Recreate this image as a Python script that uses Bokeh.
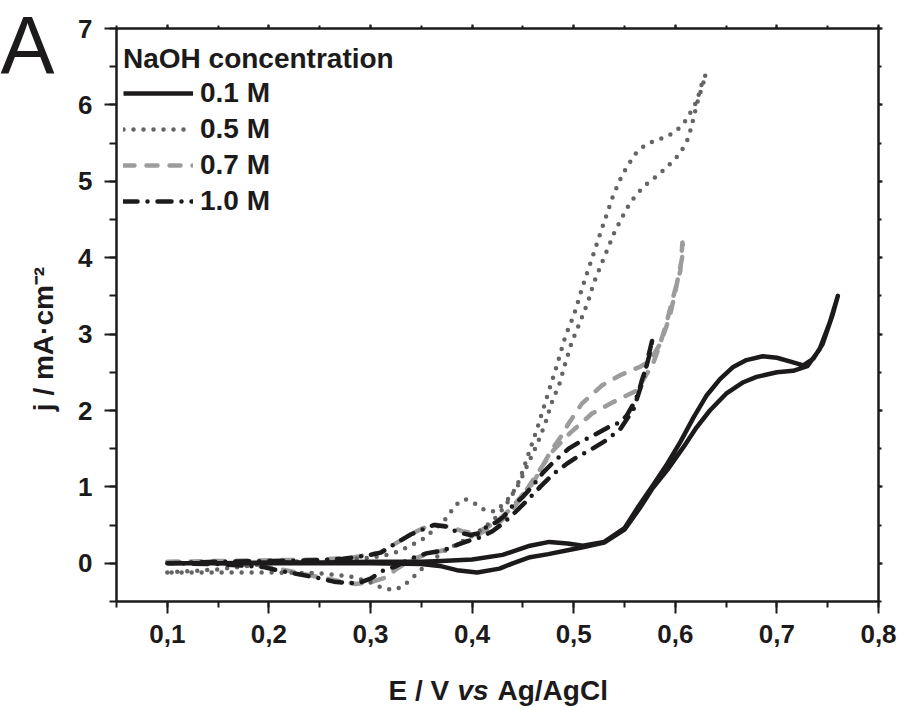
import math
from bokeh.plotting import figure
from bokeh.models import (Range1d, LinearAxis, FixedTicker, CustomJSTickFormatter,
                          Legend, LegendItem)
from bokeh.core.properties import value
from bokeh.embed import file_html
from bokeh.resources import INLINE

# ---- data (E / V vs Ag/AgCl, j / mA cm-2) ----
# 0.1 M NaOH : forward scan then reverse scan
e_01 = [0.10, 0.15, 0.20, 0.25, 0.30, 0.35, 0.37, 0.40, 0.43, 0.457, 0.476, 0.494, 0.509,
        0.53, 0.55, 0.564, 0.577, 0.592, 0.605, 0.618, 0.631, 0.644, 0.657, 0.670, 0.686,
        0.700, 0.716, 0.726, 0.736, 0.745, 0.755, 0.760,
        0.752, 0.742, 0.730, 0.716, 0.700, 0.680, 0.667, 0.650, 0.634, 0.621, 0.608, 0.592,
        0.577, 0.565, 0.55, 0.53, 0.509, 0.494, 0.475, 0.457, 0.44, 0.427, 0.405, 0.385,
        0.37, 0.35, 0.30, 0.25, 0.20, 0.15, 0.10]
j_01 = [0.00, 0.00, 0.01, 0.01, 0.02, 0.02, 0.03, 0.05, 0.11, 0.23, 0.28, 0.26, 0.23,
        0.28, 0.46, 0.75, 1.00, 1.30, 1.59, 1.91, 2.20, 2.41, 2.57, 2.66, 2.71,
        2.69, 2.63, 2.59, 2.68, 2.87, 3.26, 3.50,
        3.15, 2.80, 2.58, 2.52, 2.50, 2.44, 2.37, 2.22, 2.00, 1.78, 1.52, 1.22,
        0.97, 0.72, 0.44, 0.27, 0.21, 0.17, 0.12, 0.08, 0.00, -0.07, -0.12, -0.09,
        -0.04, -0.01, 0.00, 0.00, 0.00, 0.00, 0.00]

# 0.5 M NaOH
e_05 = [0.10, 0.15, 0.20, 0.25, 0.30, 0.32, 0.33, 0.34, 0.35, 0.36, 0.37, 0.377, 0.383,
        0.393, 0.403, 0.413, 0.423, 0.431, 0.439, 0.447, 0.456, 0.464, 0.473, 0.483, 0.492,
        0.500, 0.509, 0.519, 0.529, 0.539, 0.548, 0.554, 0.560, 0.569, 0.579, 0.589, 0.599,
        0.608, 0.614, 0.619, 0.623, 0.626, 0.630,
        0.626, 0.621, 0.618, 0.613, 0.608, 0.601, 0.592, 0.583, 0.573, 0.564, 0.556, 0.550,
        0.545, 0.540, 0.536, 0.528, 0.520, 0.514, 0.506, 0.498, 0.492, 0.486, 0.478, 0.472,
        0.464, 0.455, 0.446, 0.434, 0.425, 0.415, 0.405, 0.395, 0.385, 0.375, 0.365, 0.357,
        0.350, 0.342, 0.332, 0.323, 0.313, 0.30, 0.28, 0.25, 0.20, 0.15, 0.10]
j_05 = [-0.12, -0.08, 0.00, 0.04, 0.07, 0.12, 0.17, 0.24, 0.30, 0.41, 0.52, 0.63, 0.76,
        0.84, 0.78, 0.69, 0.68, 0.78, 0.89, 1.10, 1.45, 1.76, 2.15, 2.57, 2.98,
        3.24, 3.63, 4.03, 4.43, 4.82, 5.09, 5.22, 5.35, 5.46, 5.53, 5.57, 5.64,
        5.75, 5.88, 5.99, 6.13, 6.27, 6.40,
        6.22, 6.00, 5.83, 5.57, 5.44, 5.31, 5.19, 5.08, 4.98, 4.86, 4.73, 4.59,
        4.46, 4.33, 4.20, 3.94, 3.68, 3.42, 3.15, 2.89, 2.63, 2.35, 2.09, 1.83,
        1.56, 1.30, 1.04, 0.78, 0.62, 0.50, 0.40, 0.32, 0.25, 0.18, 0.08, 0.00,
        -0.08, -0.18, -0.30, -0.35, -0.33, -0.25, -0.17, -0.13, -0.12, -0.12, -0.12]

# 0.7 M NaOH
e_07 = [0.10, 0.15, 0.20, 0.25, 0.28, 0.31, 0.326, 0.34, 0.35, 0.362, 0.378, 0.39, 0.40,
        0.41, 0.424, 0.437, 0.450, 0.46, 0.467, 0.478, 0.487, 0.495, 0.508, 0.528, 0.547,
        0.565, 0.575, 0.585, 0.591, 0.595, 0.600, 0.603, 0.606, 0.608, 0.607,
        0.605, 0.596, 0.591, 0.585, 0.578, 0.562, 0.539, 0.518, 0.496, 0.480, 0.468, 0.458,
        0.448, 0.438, 0.428, 0.415, 0.40, 0.385, 0.372, 0.355, 0.339, 0.325, 0.316, 0.30,
        0.285, 0.265, 0.245, 0.22, 0.195, 0.15, 0.10]
j_07 = [0.02, 0.03, 0.04, 0.05, 0.07, 0.14, 0.27, 0.38, 0.45, 0.51, 0.48, 0.42, 0.40,
        0.44, 0.54, 0.70, 0.90, 1.05, 1.22, 1.48, 1.65, 1.83, 2.09, 2.33, 2.47,
        2.57, 2.65, 2.87, 3.09, 3.26, 3.55, 3.76, 3.95, 4.10, 4.20,
        3.83, 3.39, 3.13, 2.87, 2.61, 2.26, 2.11, 1.96, 1.70, 1.48, 1.25, 1.05,
        0.85, 0.68, 0.55, 0.45, 0.32, 0.24, 0.17, 0.12, 0.04, -0.08, -0.18, -0.25,
        -0.27, -0.22, -0.17, -0.10, -0.04, 0.00, 0.02]

# 1.0 M NaOH
e_10 = [0.10, 0.15, 0.20, 0.25, 0.273, 0.296, 0.31, 0.326, 0.34, 0.349, 0.362, 0.375, 0.385,
        0.398, 0.406, 0.411, 0.424, 0.431, 0.439, 0.450, 0.460, 0.470, 0.482, 0.495, 0.506,
        0.519, 0.534, 0.546, 0.552, 0.559, 0.564, 0.567, 0.572, 0.574, 0.578,
        0.574, 0.567, 0.559, 0.546, 0.532, 0.516, 0.503, 0.493, 0.480, 0.467, 0.454, 0.441,
        0.43, 0.42, 0.41, 0.398, 0.385, 0.372, 0.355, 0.339, 0.325, 0.313, 0.30, 0.29,
        0.28, 0.264, 0.244, 0.22, 0.208, 0.195, 0.15, 0.10]
j_10 = [0.00, 0.02, 0.03, 0.04, 0.06, 0.10, 0.14, 0.27, 0.38, 0.43, 0.50, 0.48, 0.41,
        0.37, 0.39, 0.45, 0.54, 0.61, 0.74, 0.87, 1.02, 1.19, 1.35, 1.50, 1.59,
        1.67, 1.78, 1.85, 1.93, 2.09, 2.24, 2.39, 2.59, 2.74, 2.96,
        2.70, 2.35, 2.02, 1.76, 1.61, 1.48, 1.39, 1.30, 1.17, 1.00, 0.82, 0.65,
        0.52, 0.42, 0.35, 0.30, 0.24, 0.17, 0.13, 0.06, -0.04, -0.09, -0.20, -0.25,
        -0.26, -0.24, -0.18, -0.12, -0.09, -0.05, -0.01, 0.00]

x_ticks = [0.1, 0.2, 0.3, 0.4, 0.5, 0.6, 0.7, 0.8]
x_minor = [0.05, 0.1, 0.15, 0.2, 0.25, 0.3, 0.35, 0.4, 0.45, 0.5, 0.55, 0.6, 0.65, 0.7, 0.75, 0.8]
y_ticks = [0, 1, 2, 3, 4, 5, 6, 7]
y_minor = [-0.5, 0, 0.5, 1, 1.5, 2, 2.5, 3, 3.5, 4, 4.5, 5, 5.5, 6, 6.5, 7]

series_labels = ["0.1 M", "0.5 M", "0.7 M", "1.0 M"]
legend_title = "NaOH concentration"
x_title_parts = ["E / V", "vs", "Ag/AgCl"]
y_title = "j / mA·cm⁻²"
panel_letter = "A"

FONT = "Liberation Sans"
INK = "#1c1a1b"

p = figure(width=903, height=709, output_backend="svg", toolbar_location=None,
           x_range=Range1d(0.05, 0.8), y_range=Range1d(-0.5, 7),
           x_axis_location=None, y_axis_location=None,
           min_border_left=116, min_border_right=25, min_border_top=28,
           min_border_bottom=108)
p.xgrid.visible = False
p.ygrid.visible = False
p.outline_line_color = INK
p.outline_line_width = 2
p.background_fill_color = "white"
p.border_fill_color = "white"

xt = FixedTicker(ticks=x_ticks, minor_ticks=x_minor)
yt = FixedTicker(ticks=y_ticks, minor_ticks=y_minor)


def style_axis(ax, tout, mout):
    ax.axis_line_color = INK
    ax.axis_line_width = 2
    ax.major_tick_line_color = INK
    ax.major_tick_line_width = 2
    ax.minor_tick_line_color = INK
    ax.minor_tick_line_width = 2
    ax.major_tick_in = 0
    ax.minor_tick_in = 0
    ax.major_tick_out = tout
    ax.minor_tick_out = mout
    ax.major_label_text_font = FONT
    ax.major_label_text_font_style = "bold"
    ax.major_label_text_color = INK


xa = LinearAxis(ticker=xt, formatter=CustomJSTickFormatter(code="return tick.toFixed(1).replace('.', ',');"))
style_axis(xa, 12, 6)
xa.major_label_text_font_size = "26px"
xa.major_label_standoff = 11
p.add_layout(xa, "below")

ya = LinearAxis(ticker=yt)
style_axis(ya, 12, 7)
ya.major_label_text_font_size = "26px"
ya.major_label_standoff = 12
p.add_layout(ya, "left")

for loc, tk in (("above", xt), ("right", yt)):
    ax = LinearAxis(ticker=tk, formatter=CustomJSTickFormatter(code="return '';"))
    style_axis(ax, 4, 3)
    ax.major_label_text_font_size = "0px"
    ax.major_label_standoff = 0
    p.add_layout(ax, loc)

r07 = p.line(e_07, j_07, line_color="#9c9c9c", line_width=4.5, line_dash="11 12",
             line_cap="round", line_join="round")
r05 = p.line(e_05, j_05, line_color="#646464", line_width=4.5, line_dash="0 10",
             line_cap="round", line_join="round")
r10 = p.line(e_10, j_10, line_color=INK, line_width=4.5, line_dash="14 10 0 10",
             line_cap="round", line_join="round")
r01 = p.line(e_01, j_01, line_color=INK, line_width=4.5, line_join="round")

legend = Legend(items=[LegendItem(label=series_labels[0], renderers=[r01]),
                       LegendItem(label=series_labels[1], renderers=[r05]),
                       LegendItem(label=series_labels[2], renderers=[r07]),
                       LegendItem(label=series_labels[3], renderers=[r10])],
                location=(7, 384), title=legend_title,
                title_text_font=FONT, title_text_font_size="28px",
                title_text_font_style="bold", title_text_color=INK,
                label_text_font=FONT, label_text_font_size="28px",
                label_text_font_style="bold", label_text_color=INK,
                glyph_width=70, glyph_height=20, label_standoff=7, spacing=4,
                padding=0, margin=0, title_standoff=2,
                border_line_color=None, background_fill_alpha=0)
p.add_layout(legend)

# axis titles (x title with italic "vs") and panel letter, drawn on the overlay
# level so that they are not clipped to the plot frame
common = dict(text_font=value(FONT), text_color=INK, text_baseline="alphabetic",
              level="overlay")
p.text(x=[0.3177], y=[-1.660], text=[x_title_parts[0]], text_font_size="28px",
       text_font_style="bold", text_align="left", **common)
p.text(x=[0.3856], y=[-1.660], text=[x_title_parts[1]], text_font_size="28px",
       text_font_style="bold italic", text_align="left", **common)
p.text(x=[0.4250], y=[-1.660], text=[x_title_parts[2]], text_font_size="28px",
       text_font_style="bold", text_align="left", **common)
p.text(x=[-0.0219], y=[2.936], text=[y_title], text_font_size="28px",
       text_font_style="bold", text_align="center", angle=math.pi / 2, **common)
p.text(x=[-0.0642], y=[6.7775], text=[panel_letter], text_font_size="81px",
       text_align="left", **common)

open("out.html", "w").write(file_html(p, INLINE))
